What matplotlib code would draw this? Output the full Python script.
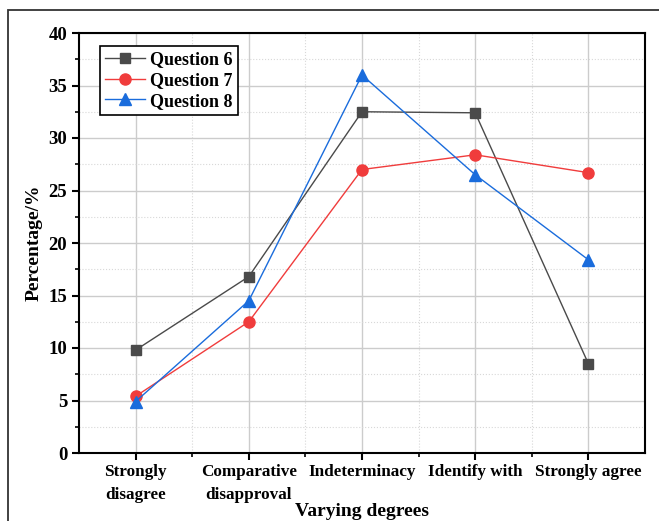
import numpy as np
import matplotlib.pyplot as plt
from matplotlib.patches import Rectangle
from matplotlib.ticker import MultipleLocator, FixedLocator

plt.rcParams['font.family'] = ['Liberation Serif', 'DejaVu Serif']
plt.rcParams['font.weight'] = 'bold'

# datos
categories = ['Strongly\ndisagree', 'Comparative\ndisapproval', 'Indeterminacy',
              'Identify with', 'Strongly agree']
q6 = [9.8, 16.8, 32.5, 32.4, 8.5]
q7 = [5.4, 12.5, 27.0, 28.4, 26.7]
q8 = [4.9, 14.5, 36.0, 26.5, 18.4]

fig = plt.figure(figsize=(6.59, 5.21), dpi=100)
ax = fig.add_axes([79/659, 1-453/521, (645-79)/659, (453-33)/521])

# marco exterior
fig.patches.append(Rectangle((8/659, -0.2), 1.2, 1-10/521+0.2, transform=fig.transFigure,
                             fill=False, edgecolor='#333333', lw=1.3))

x = np.arange(len(categories))
ax.plot(x, q6, color='#4a4a4a', lw=1, marker='s', ms=7, label='Question 6')
ax.plot(x, q7, color='#f03c3c', lw=1, marker='o', ms=8, label='Question 7')
ax.plot(x, q8, color='#1a6cdc', lw=1, marker='^', ms=9, label='Question 8')

ax.set_xlim(-0.5, 4.5)
ax.set_ylim(0, 40)
ax.set_xticks(x)
ax.set_xticklabels(categories, linespacing=1.55)
ax.xaxis.set_minor_locator(FixedLocator([0.5, 1.5, 2.5, 3.5]))
ax.yaxis.set_major_locator(MultipleLocator(5))
ax.yaxis.set_minor_locator(MultipleLocator(2.5))

ax.grid(which='major', color='#cccccc', lw=1, ls='-')
ax.grid(which='minor', color='#d8d8d8', lw=0.8, ls=':')
ax.set_axisbelow(True)

ax.tick_params(axis='both', which='major', direction='out', length=5, width=1.5,
               labelsize=13.5)
ax.tick_params(axis='both', which='minor', direction='out', length=3, width=1.2)
ax.tick_params(axis='x', labelsize=12.3, pad=3)
for s in ax.spines.values():
    s.set_linewidth(1.5)

ax.set_ylabel('Percentage/%', fontsize=14, fontweight='bold', labelpad=4)
fig.text(362/659, 1-511/521, 'Varying degrees', fontsize=14, fontweight='bold',
         ha='center', va='center')

leg = ax.legend(loc='upper left', bbox_to_anchor=(0.037, 0.969), borderaxespad=0,
                fontsize=13, fancybox=False, edgecolor='black', framealpha=1,
                handlelength=2.2, handletextpad=0.3, borderpad=0.3, labelspacing=0.2)
leg.get_frame().set_linewidth(1.2)

fig.savefig('out.png', dpi=100)
